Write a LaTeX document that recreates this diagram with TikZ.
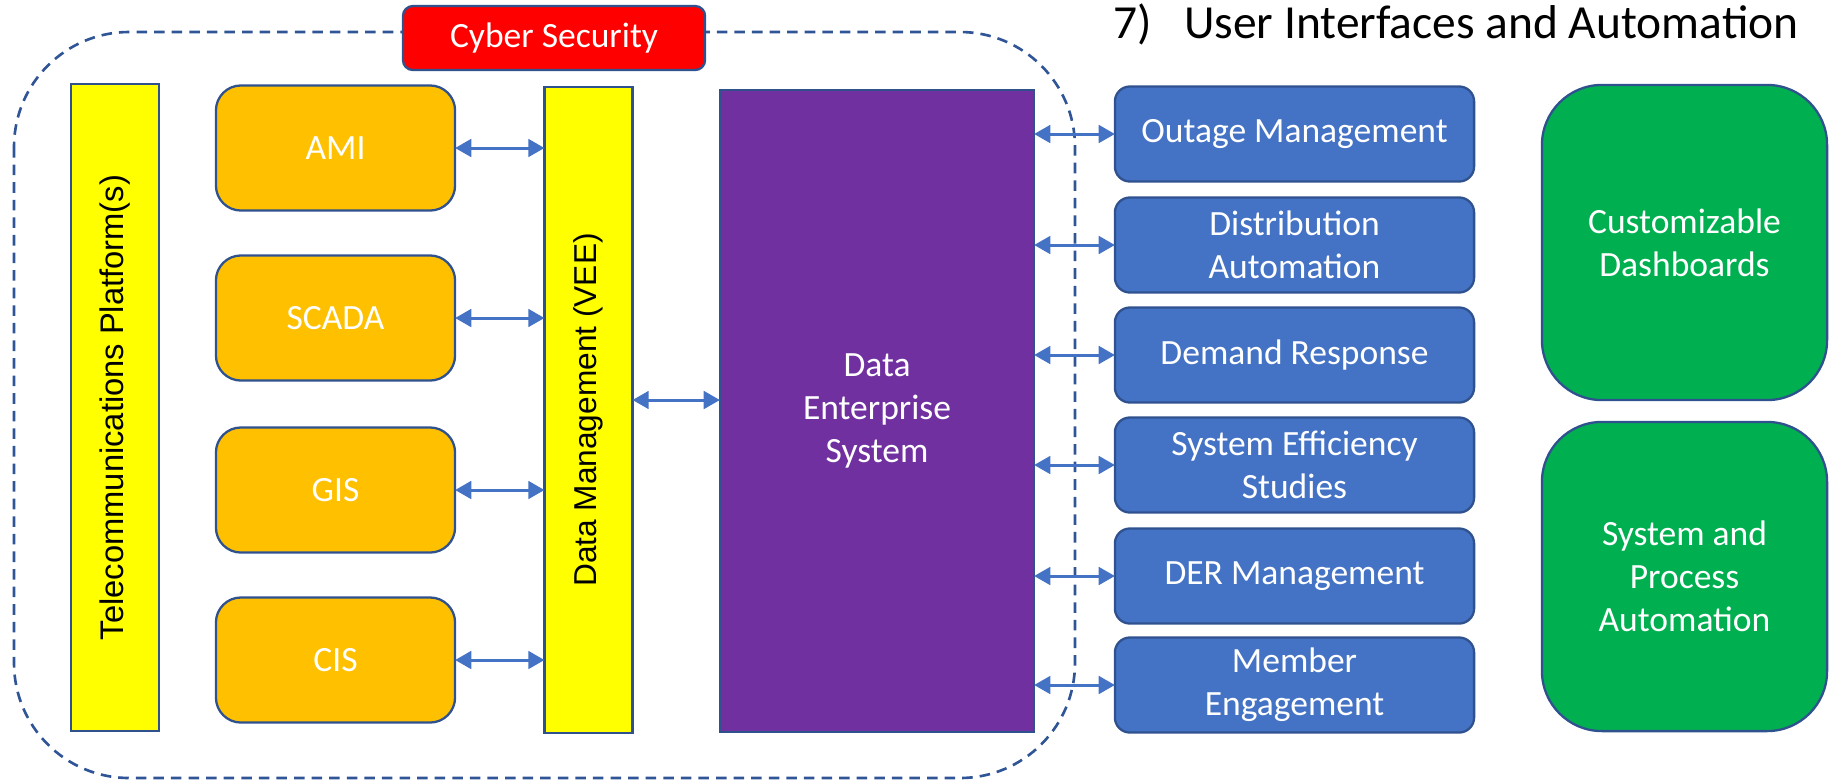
\documentclass[tikz,border=0pt]{standalone}
\usepackage{fontspec}
\setmainfont{Carlito}
\newfontfamily\arialfont{Liberation Sans}
\usetikzlibrary{arrows.meta}
\definecolor{edgeblue}{HTML}{2F528F}
\definecolor{dashblue}{HTML}{2F5597}
\definecolor{arrowblue}{HTML}{4472C4}
\definecolor{amber}{HTML}{FFC000}
\definecolor{baryellow}{HTML}{FFFF00}
\definecolor{purplebox}{HTML}{7030A0}
\definecolor{greenbox}{HTML}{00B050}
\definecolor{redbox}{HTML}{FF0000}
\begin{document}
\begin{tikzpicture}[x=0.01cm,y=-0.01cm,
  box/.style={draw=edgeblue,line width=0.65pt,align=center,text=white,inner sep=0pt,outer sep=0pt,
    font=\fontsize{10.1}{12.3}\selectfont},
  bar/.style={box,fill=baryellow,text=black,rotate=90,minimum height=0.88cm,font=\arialfont\fontsize{9.3}{11}\selectfont},
  sysbox/.style={box,fill=amber,rounded corners=0.25cm,minimum width=2.39cm,minimum height=1.25cm},
  appbox/.style={box,fill=arrowblue,rounded corners=0.15cm,minimum width=3.59cm,minimum height=0.95cm},
  uibox/.style={box,fill=greenbox,rounded corners=0.6cm,minimum width=2.85cm},
  arr/.style={draw=arrowblue,line width=0.85pt,{Triangle[length=4.6pt,width=5pt]}-{Triangle[length=4.6pt,width=5pt]}}]
\useasboundingbox (0,0) rectangle (1834,781);

% cyber security boundary
\draw[dashblue,line width=0.75pt,dash pattern=on 3pt off 2pt,rounded corners=1.15cm] (14,32) rectangle (1075,778);
\node[box,fill=redbox,rounded corners=0.1cm,minimum width=3.02cm,minimum height=0.64cm] (cyber) at (554,38) {Cyber Security};
\node[anchor=base west,inner sep=0pt,font=\fontsize{13.5}{16}\selectfont] (title) at (1113,38) {7)\hspace{0.32cm}User Interfaces and Automation};

\node[bar,minimum width=6.47cm] (telecom) at (115,407.5) {Telecommunications Platform(s)};
\node[bar,minimum width=6.46cm,font=\arialfont\fontsize{9.0}{11}\selectfont] (dm) at (588.5,410) {Data Management (VEE)};

\node[sysbox] (ami) at (335.5,148) {AMI};
\node[sysbox] (scada) at (335.5,318) {SCADA};
\node[sysbox] (gis) at (335.5,490) {GIS};
\node[sysbox] (cis) at (335.5,660) {CIS};

\node[box,fill=purplebox,minimum width=3.14cm,minimum height=6.42cm] (des) at (877,411) {Data\\Enterprise\\System};

\node[appbox] (oms) at (1294.5,134) {Outage Management};
\node[appbox] (da) at (1294.5,245) {Distribution\\Automation};
\node[appbox] (dr) at (1294.5,355) {Demand Response};
\node[appbox] (ses) at (1294.5,465) {System Efficiency\\Studies};
\node[appbox] (derm) at (1294.5,576) {DER Management};
\node[appbox] (me) at (1294.5,685) {Member\\Engagement};

\node[uibox,minimum height=3.15cm] (dash) at (1684.5,242.5) {Customizable\\Dashboards};
\node[uibox,minimum height=3.09cm] (auto) at (1684.5,576.5) {System and\\Process\\Automation};

% rotated bars: north is the left side, south the right side
\foreach \s in {ami,scada,gis,cis}
  \draw[arr] (\s.east) -- (\s.east -| dm.north);
\draw[arr] (dm.south |- 0,400) -- (des.west |- 0,400);
\foreach \a in {oms,da,dr,ses,derm,me}
  \draw[arr] (\a.west -| des.east) -- (\a.west);
\end{tikzpicture}
\end{document}
